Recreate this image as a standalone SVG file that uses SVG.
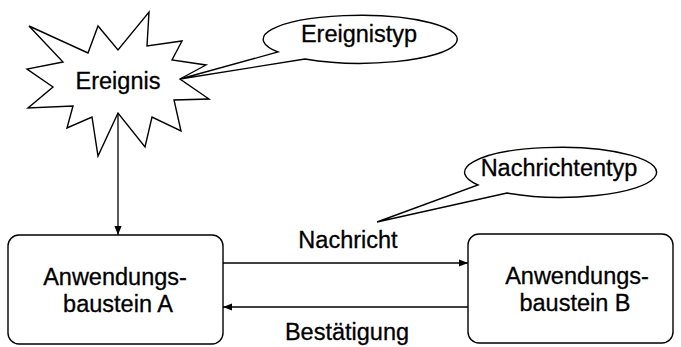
<svg xmlns="http://www.w3.org/2000/svg" width="681" height="347" viewBox="0 0 681 347">
<defs>
<style>
.s{fill:#fff;stroke:#000;stroke-width:1.4;stroke-linejoin:miter}
.t{font-family:"Liberation Sans",Arial,sans-serif;font-size:23.5px;fill:#000;stroke:#000;stroke-width:0.3;text-anchor:middle}
.c{stroke:#000;stroke-width:1.3;fill:none}
</style>
<marker id="ah" viewBox="0 0 10 10" refX="10" refY="5" markerWidth="9" markerHeight="9" markerUnits="userSpaceOnUse" orient="auto"><path d="M0,1 L10,5 L0,9 z" fill="#000"/></marker>
</defs>
<rect width="681" height="347" fill="#fff"/>
<g id="connectors">
<line class="c" x1="118" y1="113" x2="118" y2="235" marker-end="url(#ah)"/>
<line class="c" x1="223" y1="263" x2="468" y2="263" marker-end="url(#ah)"/>
<line class="c" x1="468" y1="307" x2="223" y2="307" marker-end="url(#ah)"/>
<text class="t" x="348" y="248">Nachricht</text>
<text class="t" x="347" y="340">Bestätigung</text>
</g>
<g id="ereignis">
<polygon class="s" points="29,26 88,53 98,26 118,50 149,12 147,46 182,41 172,60 206,65 180,79 209,99 174,100 181,131 152,117 145,147 118,113 98,156 92,117 67,128 73,106 28,108 53,87 27,69 63,62"/>
<text class="t" x="118" y="89">Ereignis</text>
</g>
<g id="ereignistyp">
<path class="s" d="M278,52 A97,24 0 1 1 305,59 L180,79 Z"/>
<text class="t" x="359" y="42">Ereignistyp</text>
</g>
<g id="nachrichtentyp">
<path class="s" d="M478,185 A96,25 0 1 1 507,193 L377,222 Z"/>
<text class="t" x="559" y="176">Nachrichtentyp</text>
</g>
<g id="bausteinA">
<rect class="s" x="8" y="235" width="215" height="109" rx="11"/>
<text class="t" x="115" y="285">Anwendungs-</text>
<text class="t" x="118" y="312">baustein A</text>
</g>
<g id="bausteinB">
<rect class="s" x="468" y="234" width="205" height="109" rx="11"/>
<text class="t" x="577" y="284">Anwendungs-</text>
<text class="t" x="575" y="311">baustein B</text>
</g>
</svg>
